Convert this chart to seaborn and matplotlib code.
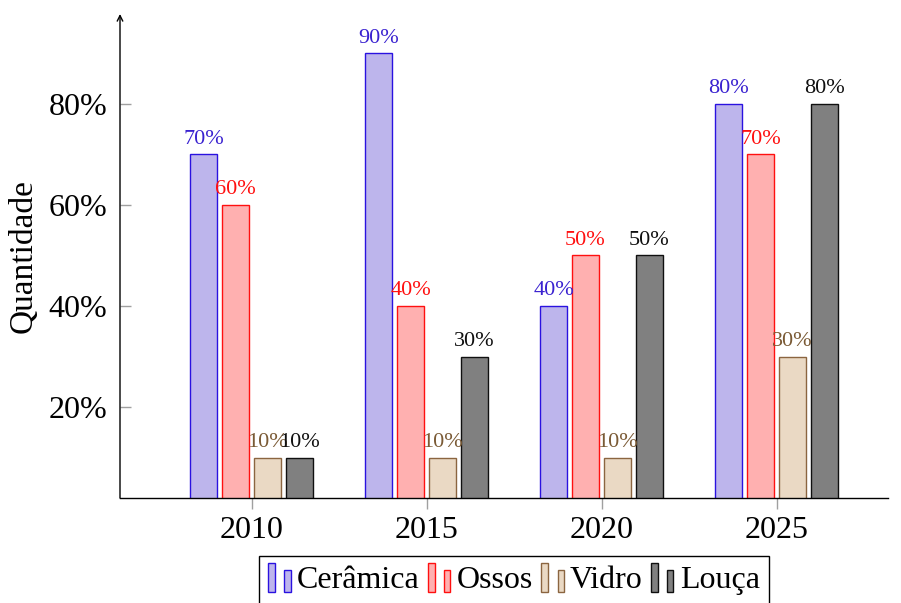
import numpy as np
import pandas as pd
import matplotlib
matplotlib.use('Agg')
import matplotlib.pyplot as plt
from matplotlib.patches import Rectangle
from matplotlib.legend_handler import HandlerBase
import seaborn as sns

anos = ['2010', '2015', '2020', '2025']
materiais = ['Cerâmica', 'Ossos', 'Vidro', 'Louça']
ceramica = [70, 90, 40, 80]
ossos = [60, 40, 50, 70]
vidro = [10, 10, 10, 30]
louca = [10, 30, 50, 80]
y_ticks = [20, 40, 60, 80]

fills = ['#bdb5ec', '#ffb0b0', '#ead9c4', '#808080']
edges = ['#2a12e0', '#ff1010', '#8b6540', '#101010']
txt_cols = ['#3a22d0', '#ff1010', '#7a5a35', '#101010']

df = pd.DataFrame({
    'Ano': anos * 4,
    'Material': np.repeat(materiais, len(anos)),
    'Valor': ceramica + ossos + vidro + louca,
})

sns.set_style('ticks')
plt.rcParams['font.family'] = ['Liberation Serif', 'DejaVu Serif']
plt.rcParams['text.color'] = 'black'
plt.rcParams['axes.labelcolor'] = 'black'
plt.rcParams['xtick.labelcolor'] = 'black'
plt.rcParams['ytick.labelcolor'] = 'black'


class TwoBars(HandlerBase):
    # legenda no estilo ybar: duas barrinhas por entrada
    def create_artists(self, legend, orig_handle, xdescent, ydescent,
                       width, height, fontsize, trans):
        fc = orig_handle.get_facecolor()
        ec = orig_handle.get_edgecolor()
        x0, y0 = -xdescent, -ydescent - 0.2 * height
        r1 = Rectangle((x0, y0), width * 0.32, height * 1.3,
                       facecolor=fc, edgecolor=ec, lw=1, transform=trans)
        r2 = Rectangle((x0 + width * 0.73, y0), width * 0.27, height * 1.0,
                       facecolor=fc, edgecolor=ec, lw=1, transform=trans)
        return [r1, r2]


fig = plt.figure(figsize=(9.01, 6.03), dpi=100)
ax = fig.add_axes([120 / 901, 105 / 603, 768 / 901, 484 / 603])

sns.barplot(data=df, x='Ano', y='Valor', hue='Material', hue_order=materiais,
            order=anos, palette=fills, saturation=1, width=0.731, gap=0.156,
            linewidth=1, legend=False, ax=ax)

for cont, ec, tc in zip(ax.containers, edges, txt_cols):
    for p in cont:
        p.set_edgecolor(ec)
    ax.bar_label(cont, labels=[f'{v:.0f}%' for v in cont.datavalues],
                 padding=4, color=tc, fontsize=16)

ax.set_xlim(-0.7514, 3.637)
ax.set_ylim(2, 97.8)
ax.set_yticks(y_ticks)
ax.set_yticklabels([f'{t}%' for t in y_ticks])
ax.set_xlabel('')
ax.set_ylabel('Quantidade', fontsize=24)
ax.yaxis.set_label_coords(-0.106, 0.5)

ax.tick_params(axis='y', direction='in', length=8, width=1, color='#a0a0a0',
               labelsize=23, pad=9)
ax.tick_params(axis='x', direction='out', length=8, width=1, color='#a0a0a0',
               labelsize=23, pad=5)

sns.despine(ax=ax, top=True, right=True, left=True)
ax.spines['bottom'].set_linewidth(1)
ax.spines['bottom'].set_color('black')
ax.annotate('', xy=(0, 1), xycoords='axes fraction', xytext=(0, 0),
            arrowprops=dict(arrowstyle='->,head_length=0.4,head_width=0.2',
                            lw=1, color='black', shrinkA=0, shrinkB=0))

handles = [Rectangle((0, 0), 1, 1, facecolor=f, edgecolor=e)
           for f, e in zip(fills, edges)]
leg = fig.legend(handles, materiais, loc='upper center',
                 bbox_to_anchor=(514 / 901, 47 / 603), ncol=4, fontsize=23,
                 handler_map={Rectangle: TwoBars()}, handlelength=0.7,
                 handletextpad=0.2, columnspacing=0.26, borderpad=0.3,
                 borderaxespad=0, fancybox=False, framealpha=1,
                 edgecolor='black')
leg.get_frame().set_linewidth(1)

fig.savefig('out.png', dpi=100)
